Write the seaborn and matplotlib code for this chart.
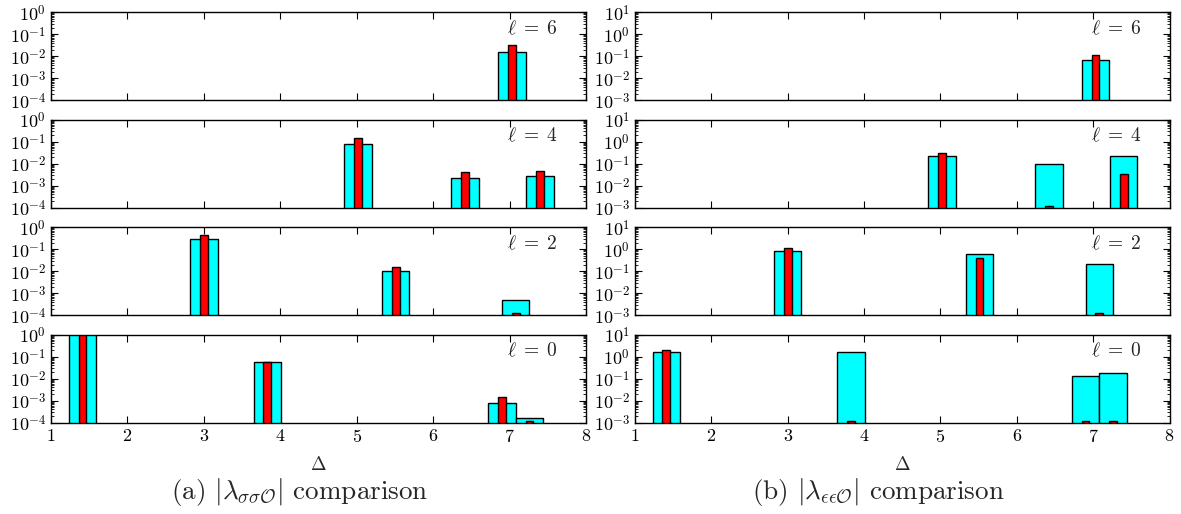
import numpy as np
import pandas as pd
import matplotlib
matplotlib.use("Agg")
import matplotlib.pyplot as plt
import seaborn as sns
from matplotlib.ticker import LogLocator, FuncFormatter, NullLocator

# ---------------- data ----------------
spins = [6, 4, 2, 0]
x_ticks = [1, 2, 3, 4, 5, 6, 7, 8]

delta_l6 = [7.03]
delta_l4 = [5.02, 6.42, 7.40]
delta_l2 = [3.00, 5.51, 7.08]
delta_l0 = [1.41, 3.83, 6.90, 7.26]

# (a) |lambda_{sigma sigma O}| : wide (cyan) and narrow (red) bars
ss_wide_l6 = [0.015]
ss_narrow_l6 = [0.033]
ss_wide_l4 = [0.075, 0.0022, 0.0027]
ss_narrow_l4 = [0.15, 0.0044, 0.0048]
ss_wide_l2 = [0.29, 0.0098, 0.00047]
ss_narrow_l2 = [0.46, 0.016, 0.00012]
ss_wide_l0 = [1.05, 0.057, 0.00077, 0.00016]
ss_narrow_l0 = [1.05, 0.055, 0.0015, 0.00012]

# (b) |lambda_{eps eps O}|
ee_wide_l6 = [0.066]
ee_narrow_l6 = [0.119]
ee_wide_l4 = [0.23, 0.10, 0.22]
ee_narrow_l4 = [0.32, 0.00115, 0.035]
ee_wide_l2 = [0.80, 0.63, 0.21]
ee_narrow_l2 = [1.12, 0.38, 0.0012]
ee_wide_l0 = [1.56, 1.56, 0.13, 0.19]
ee_narrow_l0 = [2.05, 0.0012, 0.0012, 0.0012]

ylim_a = (1e-4, 1e0)
ylim_b = (1e-3, 1e1)
caption_a = r"(a) $|\lambda_{\sigma\sigma\mathcal{O}}|$ comparison"
caption_b = r"(b) $|\lambda_{\epsilon\epsilon\mathcal{O}}|$ comparison"

# ---------------- style ----------------
sns.set_theme(style="ticks")
plt.rcParams.update({
    "font.family": "serif",
    "font.serif": ["cmr10", "DejaVu Serif"],
    "mathtext.fontset": "cm",
    "axes.formatter.use_mathtext": True,
    "axes.linewidth": 1.0,
    "axes.edgecolor": "black",
    "xtick.direction": "in",
    "ytick.direction": "in",
    "xtick.top": True,
    "ytick.right": True,
    "xtick.color": "black",
    "ytick.color": "black",
})

fig = plt.figure(figsize=(11.81, 5.14), dpi=100)

col_left = [51 / 1181, 635 / 1181]
col_width = [535 / 1181, 534.5 / 1181]
row_bottom = [1 - 100.2 / 514, 1 - 207.7 / 514, 1 - 315.2 / 514, 1 - 422.7 / 514]
row_height = 88 / 514

panels = [
    [(delta_l6, ss_wide_l6, ss_narrow_l6), (delta_l4, ss_wide_l4, ss_narrow_l4),
     (delta_l2, ss_wide_l2, ss_narrow_l2), (delta_l0, ss_wide_l0, ss_narrow_l0)],
    [(delta_l6, ee_wide_l6, ee_narrow_l6), (delta_l4, ee_wide_l4, ee_narrow_l4),
     (delta_l2, ee_wide_l2, ee_narrow_l2), (delta_l0, ee_wide_l0, ee_narrow_l0)],
]
ylims = [ylim_a, ylim_b]

sci = FuncFormatter(lambda v, p: r"$10^{%d}$" % int(round(np.log10(v))))
intfmt = FuncFormatter(lambda v, p: r"$%d$" % int(round(v)))

for c in range(2):
    for r in range(4):
        deltas, wide, narrow = panels[c][r]
        ax = fig.add_axes([col_left[c], row_bottom[r], col_width[c], row_height])
        ax.set_yscale("log")
        df = pd.DataFrame({"delta": deltas, "wide": wide, "narrow": narrow})
        nw = float(np.diff(np.unique(deltas)).min()) if len(deltas) > 1 else 1.0
        sns.barplot(data=df, x="delta", y="wide", native_scale=True,
                    width=0.36 / nw, color="#00FFFF", saturation=1,
                    edgecolor="black", linewidth=1.0, errorbar=None, ax=ax)
        sns.barplot(data=df, x="delta", y="narrow", native_scale=True,
                    width=0.10 / nw, color="#FF0000", saturation=1,
                    edgecolor="black", linewidth=1.0, errorbar=None, ax=ax)
        ax.set_xlim(1, 8)
        ax.set_ylim(*ylims[c])
        ax.set_ylabel("")
        ax.set_xticks(x_ticks)
        ax.xaxis.set_minor_locator(NullLocator())
        ax.yaxis.set_major_locator(LogLocator(base=10, numticks=20))
        ax.yaxis.set_minor_locator(LogLocator(base=10, subs=np.arange(2, 10), numticks=100))
        ax.yaxis.set_major_formatter(sci)
        ax.tick_params(axis="both", which="major", length=5, width=0.8, labelsize=13,
                       direction="in", top=True, right=True)
        ax.tick_params(axis="y", which="minor", length=2.5, width=0.6,
                       direction="in", left=True, right=True)
        ax.text(0.9, 0.81, r"$\ell\;=\;%d$" % spins[r], transform=ax.transAxes,
                ha="center", va="center", fontsize=14)
        if r == 3:
            ax.xaxis.set_major_formatter(intfmt)
            ax.set_xlabel(r"$\Delta$", fontsize=13.5, labelpad=8)
        else:
            ax.set_xticklabels([])
            ax.set_xlabel("")

fig.text(300 / 1181, 1 - 492 / 514, caption_a, ha="center", va="center", fontsize=19.5)
fig.text(878 / 1181, 1 - 492 / 514, caption_b, ha="center", va="center", fontsize=19.5)

fig.savefig("out.png", dpi=100)
